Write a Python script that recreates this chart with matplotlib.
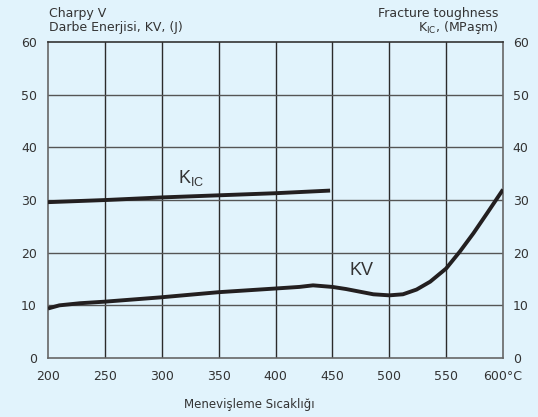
import numpy as np
from matplotlib import pyplot as plt

# temperature (C) and values
kic_t = [200, 250, 300, 350, 400, 448]
kic_v = [29.6, 30.0, 30.5, 30.9, 31.3, 31.8]

kv_t = [200, 210, 228, 250, 298, 350, 400, 421, 433, 450, 462, 474, 486, 500, 512,
        524, 536, 550, 562, 574, 586, 600]
kv_v = [9.4, 10.0, 10.4, 10.7, 11.5, 12.5, 13.2, 13.5, 13.8, 13.5, 13.1, 12.6, 12.1,
        11.9, 12.1, 13.0, 14.5, 17.0, 20.2, 23.7, 27.5, 32.0]

x_ticks = [200, 250, 300, 350, 400, 450, 500, 550, 600]
x_labels = ["200", "250", "300", "350", "400", "450", "500", "550", "600°C"]
y_ticks = [0, 10, 20, 30, 40, 50, 60]

bg = "#e1f3fc"
ink = "#231f20"
txt = "#333333"

plt.rcParams['font.family'] = ['DejaVu Sans']

fig = plt.figure(figsize=(5.38, 4.17), dpi=100, facecolor=bg)
ax = fig.add_axes([0.0892, 0.1415, 0.8458, 0.7575])
ax.set_facecolor(bg)
ax.set_xlim(200, 600)
ax.set_ylim(0, 60)

for t in x_ticks[1:-1]:
    ax.axvline(t, color="#2b2b2b", lw=1.0, zorder=1)
for v in y_ticks[1:-1]:
    ax.axhline(v, color="#555555", lw=1.0, zorder=1)

ax.plot(kic_t, kic_v, color=ink, lw=2.8, solid_capstyle="butt", zorder=3)
ax.plot(kv_t, kv_v, color=ink, lw=2.8, solid_capstyle="butt", solid_joinstyle="round",
        zorder=3)

ax.set_xticks(x_ticks)
ax.set_xticklabels(x_labels)
ax.set_yticks(y_ticks)
ax.tick_params(length=0, labelsize=9, colors=txt, pad=9)
ax.tick_params(axis="y", pad=8)

for s in ["left", "right", "bottom"]:
    ax.spines[s].set_color("#666666")
    ax.spines[s].set_linewidth(1.2)
ax.spines["top"].set_color("#333333")
ax.spines["top"].set_linewidth(1.2)

ax2 = ax.twinx()
ax2.set_ylim(0, 60)
ax2.set_yticks(y_ticks)
ax2.tick_params(length=0, labelsize=9, colors=txt, pad=7)
for s in ax2.spines.values():
    s.set_visible(False)

ax.text(326, 33.2, r"K$_{\mathregular{IC}}$", fontsize=13, family="Liberation Sans",
        color=txt, ha="center", va="baseline")
ax.text(476, 15.75, "KV", fontsize=13, family="Liberation Sans", color=txt,
        ha="center", va="baseline")

fig.text(0.0911, 0.959, "Charpy V", fontsize=9, color=txt, ha="left", va="baseline")
fig.text(0.0911, 0.926, "Darbe Enerjisi, KV, (J)", fontsize=9, color=txt,
         ha="left", va="baseline")
fig.text(0.926, 0.959, "Fracture toughness", fontsize=9, color=txt,
         ha="right", va="baseline")
fig.text(0.926, 0.926, r"K$_{\mathregular{IC}}$, (MPaşm)", fontsize=9, color=txt,
         ha="right", va="baseline")
fig.text(0.464, 0.022, "Menevişleme Sıcaklığı", fontsize=8.5, color=txt,
         ha="center", va="baseline")

fig.savefig("out.png", dpi=100, facecolor=bg)
